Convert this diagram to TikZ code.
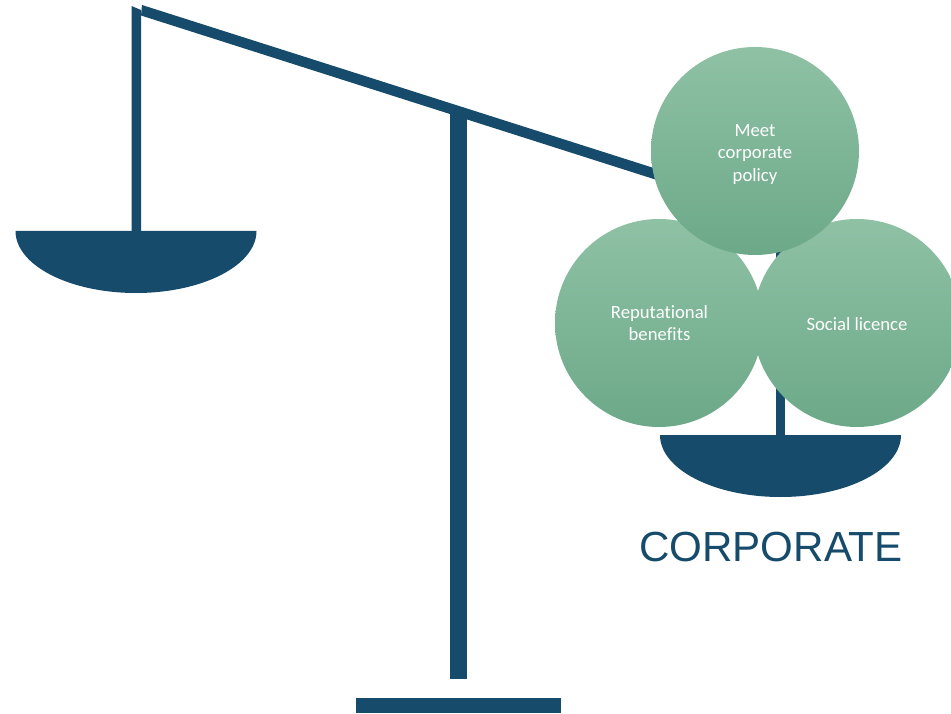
\documentclass[tikz,border=0pt]{standalone}
\usepackage{fontspec}
\setmainfont{Liberation Sans}
\newfontfamily\ballfont[Ligatures=NoCommon]{Carlito}
\definecolor{navy}{HTML}{174B6B}
\definecolor{ballTop}{HTML}{8FC1A5}
\definecolor{ballMid}{HTML}{80BC9C}
\definecolor{ballBot}{HTML}{6CA989}
\tikzset{
  bar/.style={fill=navy,draw=none},
  ball/.style={circle,minimum size=208pt,inner sep=0pt,draw=none,
    top color=ballTop,middle color=ballMid,bottom color=ballBot},
  balltext/.style={text=white,align=center,inner sep=0pt,font=\ballfont\fontsize{18.7}{22.6}\selectfont},
  title/.style={text=navy,font=\fontsize{42.1}{48}\selectfont,inner sep=0pt}
}
\begin{document}
\begin{tikzpicture}[x=1pt,y=-1pt]
\useasboundingbox (0,0) rectangle (951,714);
\clip (0,0) rectangle (951,714);
\fill[white] (0,0) rectangle (951,714);
% left hanger and pan
\fill[bar] (131.5,6) -- (141,10) -- (141,235) -- (131.5,235) -- cycle;
\fill[bar] (15.5,231) -- (256.5,231) arc[start angle=0,end angle=180,x radius=120.5,y radius=62] -- cycle;
% beam
\fill[bar] (142,5) -- (141,15.5) -- (660,181) -- (660,170) -- cycle;
% central post and base
\fill[bar] (450,112) rectangle (467.3,678.5);
\fill[bar] (356,697.5) rectangle (561,713);
% right hanger and pan
\fill[bar] (775.5,245) rectangle (785,438);
\fill[bar] (660,435) -- (901,435) arc[start angle=0,end angle=180,x radius=120.5,y radius=62] -- cycle;
% balls
\node[ball] (social) at (857,323) {};
\node[ball] (reput) at (659,323) {};
\node[ball] (policy) at (755,151) {};
\node[balltext,yshift=-1pt] (socialtext) at (social.center) {Social licence};
\node[balltext,yshift=0pt,xshift=0.5pt] (reputtext) at (reput.center) {Reputational\\benefits};
\node[balltext,yshift=-3.5pt] (policytext) at (policy.center) {Meet\\corporate\\policy};
\node[title] (corp) at (771,547) {CORPORATE};
\end{tikzpicture}
\end{document}
